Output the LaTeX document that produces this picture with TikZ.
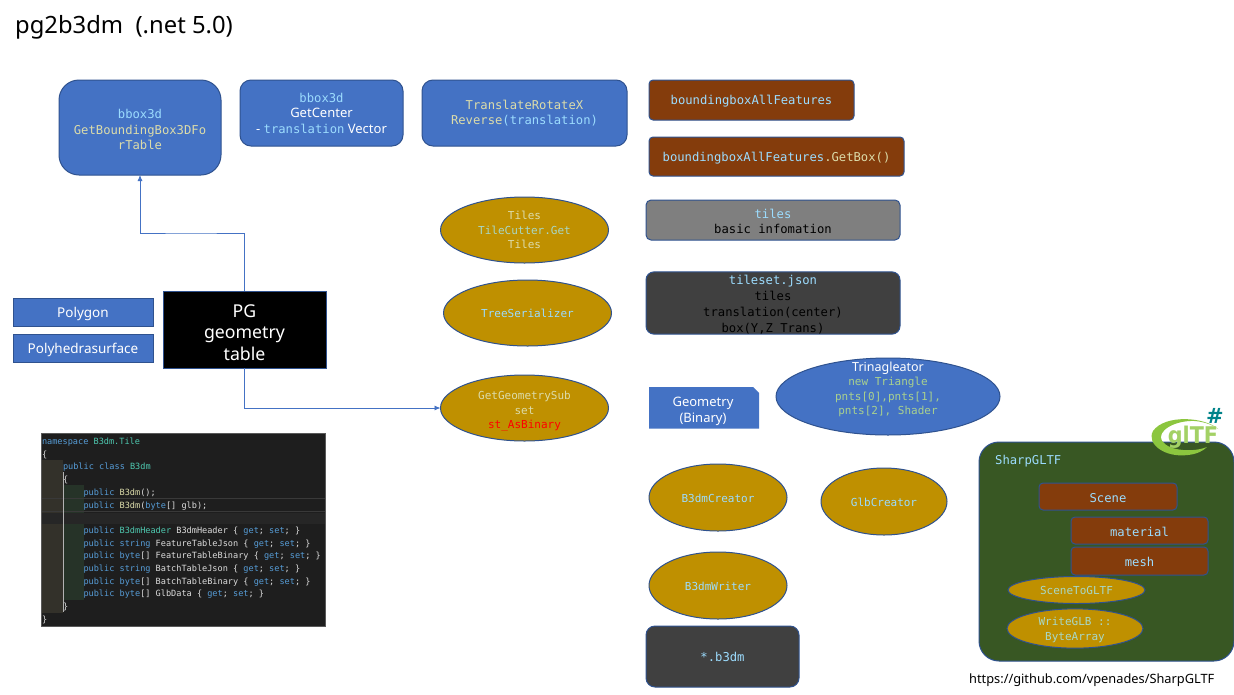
\documentclass[tikz,border=0pt]{standalone}
\usepackage{fontspec}
\setmainfont{Noto Sans}
\newfontfamily\monof{DejaVu Sans Mono}
\newfontfamily\logof{DejaVu Sans}
\usetikzlibrary{shapes.geometric,shapes.misc,arrows.meta,calc}
\definecolor{bluef}{HTML}{4472C4}
\definecolor{blued}{HTML}{2F528F}
\definecolor{brownf}{HTML}{843C0C}
\definecolor{goldf}{HTML}{BF9000}
\definecolor{greyf}{HTML}{7F7F7F}
\definecolor{darkf}{HTML}{404040}
\definecolor{greenf}{HTML}{385723}
\definecolor{cy}{HTML}{9CDCFE}
\definecolor{ye}{HTML}{DCDCAA}
\definecolor{pg}{HTML}{A9D18E}
\definecolor{te}{HTML}{A8D8C8}
\definecolor{kw}{HTML}{569CD6}
\definecolor{ty}{HTML}{4EC9B0}
\definecolor{wh}{HTML}{DCDCDC}
\definecolor{codebg}{HTML}{1E1E1E}
\definecolor{gutA}{HTML}{33312A}
\definecolor{gutB}{HTML}{263328}
\definecolor{logoG}{HTML}{8CC63F}
\definecolor{logoT}{HTML}{00838A}
\newcommand{\mt}{\monof\fontsize{12.2}{15.5}\selectfont}
\newcommand{\ot}{\monof\fontsize{11}{14.5}\selectfont}
\newcommand{\st}{\normalfont\fontsize{13.5}{16}\selectfont}
\newcommand{\K}[1]{\textcolor{kw}{#1}}
\newcommand{\T}[1]{\textcolor{ty}{#1}}
\newcommand{\up}[1]{\rule{0pt}{#1}}
\tikzset{
  x=1pt,y=-1pt,
  base/.style={draw=blued,line width=1pt,align=center,inner sep=0pt,outer sep=0pt,font=\mt,text=white},
  oval/.style={base,ellipse,fill=goldf,font=\ot},
  down/.style={execute at begin node={\rule{0pt}{#1}}},
  link/.style={draw=bluef,line width=0.8pt,-{Latex[length=6pt,width=5pt]}},
  code/.style={anchor=base west,inner sep=0pt,outer sep=0pt,font=\monof\fontsize{8.57}{10}\selectfont,text=wh},
}
\begin{document}
\begin{tikzpicture}
\useasboundingbox (0,0) rectangle (1234,694);
\fill[white] (0,0) rectangle (1234,694);
\node[anchor=base west,inner sep=0pt,font=\fontsize{23.8}{28}\selectfont,text=black] (title) at (15,33) {pg2b3dm\ \ (.net 5.0)};

\node[base,fill=bluef,rounded corners=20pt,minimum width=162pt,minimum height=95pt] (b1) at (140,127.5) {\up{14pt}\textcolor{cy}{bbox3d}\\\textcolor{ye}{GetBoundingBox3DFo}\\\textcolor{ye}{rTable}};
\node[base,fill=bluef,rounded corners=11pt,minimum width=163pt,minimum height=66pt] (b2) at (321.5,113) {\textcolor{cy}{bbox3d}\\{\normalfont\fontsize{13}{16}\selectfont GetCenter}\\{\normalfont\fontsize{13}{16}\selectfont - }\textcolor{cy}{translation}{\normalfont\fontsize{13}{16}\selectfont\ Vector}};
\node[base,fill=bluef,rounded corners=11pt,minimum width=205pt,minimum height=66pt] (b3) at (524.5,113) {\textcolor{ye}{TranslateRotateX}\\\textcolor{ye}{Reverse}\textcolor{cy}{(translation)}};

\node[base,down=12pt,fill=brownf,rounded corners=4pt,minimum width=205pt,minimum height=40pt] (c1) at (751.5,100) {\textcolor{cy}{boundingboxAllFeatures}};
\node[base,down=12pt,fill=brownf,rounded corners=4pt,minimum width=255pt,minimum height=39pt] (c2) at (776.5,156.5) {\textcolor{cy}{boundingboxAllFeatures}\textcolor{ye}{.GetBox()}};
\node[base,fill=greyf,rounded corners=5pt,minimum width=254pt,minimum height=40pt] (c3) at (773,220) {\up{12.5pt}\textcolor{cy}{tiles}\\\textcolor{black}{basic infomation}};
\node[base,fill=darkf,rounded corners=8pt,minimum width=254pt,minimum height=62pt,font=\monof\fontsize{12.2}{16}\selectfont] (c4) at (773,303) {\up{12.5pt}\textcolor{cy}{tileset.json}\\\textcolor{black}{tiles}\\\textcolor{black}{translation(center)}\\\textcolor{black}{box(Y,Z Trans)}};

\node[oval,minimum width=168pt,minimum height=66pt] (e1) at (524.5,230) {\textcolor{ye}{Tiles}\\\textcolor{te}{TileCutter.Get}\\\textcolor{ye}{Tiles}};
\node[oval,down=10pt,minimum width=168pt,minimum height=66pt] (e2) at (527.5,313) {\textcolor{cy}{TreeSerializer}};
\node[oval,minimum width=168pt,minimum height=66pt] (geo) at (524.5,408) {\up{15pt}\textcolor{ye}{GetGeometrySub}\\\textcolor{ye}{set}\\\textcolor{red}{st\_AsBinary}};

\fill[bluef] (649,387) -- (753,387) -- (759,393) -- (759,428.5) -- (649,428.5) -- cycle;
\node[inner sep=0pt,align=center,text=white,font=\fontsize{13}{16}\selectfont] (g1) at (703,411.5) {Geometry\\(Binary)};

\node[base,ellipse,fill=bluef,minimum width=224pt,minimum height=77pt] (tri) at (888,396.5) {};
\node[inner sep=0pt,align=center,text=white,font=\ot] (trit) at (888,389.5) {{\normalfont\fontsize{12.5}{14.5}\selectfont Trinagleator}\\\textcolor{pg}{new Triangle}\\\textcolor{pg}{pnts[0],pnts[1],}\\\textcolor{pg}{pnts[2], Shader}};

\node[oval,down=10pt,minimum width=138pt,minimum height=67pt] (e3) at (718,497.5) {\textcolor{cy}{B3dmCreator}};
\node[oval,down=10pt,minimum width=126pt,minimum height=67pt] (e4) at (884,501.5) {\textcolor{cy}{GlbCreator}};
\node[oval,down=10pt,minimum width=138pt,minimum height=67pt] (e5) at (718,585.5) {\textcolor{cy}{B3dmWriter}};
\node[base,fill=darkf,rounded corners=9pt,minimum width=153pt,minimum height=61pt] (c5) at (722.5,656.5) {\textcolor{cy}{*.b3dm}};

\node[base,fill=greenf,rounded corners=20pt,minimum width=255pt,minimum height=219pt] (sg) at (1106.5,551.5) {};
\node[anchor=base west,inner sep=0pt,font=\mt,text=cy] (sgt) at (995,464) {SharpGLTF};
\node[base,down=12pt,fill=brownf,rounded corners=4pt,minimum width=138pt,minimum height=27pt] (s1) at (1108,496.5) {\textcolor{cy}{Scene}};
\node[base,down=12pt,fill=brownf,rounded corners=4pt,minimum width=137pt,minimum height=27pt] (s2) at (1139.5,530.5) {\textcolor{cy}{material}};
\node[base,down=12pt,fill=brownf,rounded corners=4pt,minimum width=137pt,minimum height=28pt] (s3) at (1139.5,561) {\textcolor{cy}{mesh}};
\node[oval,minimum width=137pt,minimum height=27pt] (s4) at (1076.5,590) {\textcolor{te}{SceneToGLTF}};
\node[oval,minimum width=136pt,minimum height=37pt] (s5) at (1075,628.5) {\up{11pt}\textcolor{te}{WriteGLB ::}\\\textcolor{te}{ByteArray}};

% glTF logo
\fill[logoG] (1218,429) .. controls (1205,417) and (1165,414) .. (1153,431)
  .. controls (1146,444) and (1165,458) .. (1188,455)
  .. controls (1197,454) and (1203,451) .. (1207,447)
  .. controls (1195,452) and (1170,452) .. (1162,441)
  .. controls (1156,431) and (1175,420) .. (1195,421)
  .. controls (1205,422) and (1213,425) .. (1218,429) -- cycle;
\node[inner sep=0pt,anchor=center,font=\logof\bfseries\fontsize{23}{23}\selectfont,text=logoG!80!white] (gl) at (1193,437) {\scalebox{.9}[1]{glTF}};
\node[inner sep=0pt,font=\logof\bfseries\fontsize{21}{21}\selectfont,text=logoT] (hash) at (1215,415.5) {\#};

\node[anchor=base west,inner sep=0pt,font=\fontsize{12.8}{15}\selectfont,text=black] (url) at (969,683) {https://github.com/vpenades/SharpGLTF};

\node[base,down=14pt,rectangle,fill=bluef,minimum width=140pt,minimum height=28pt,font=\st] (p1) at (83,312) {Polygon};
\node[base,down=14pt,rectangle,fill=bluef,minimum width=140pt,minimum height=28pt,font=\st] (p2) at (83,348) {Polyhedrasurface};
\node[base,rectangle,fill=black,minimum width=163pt,minimum height=77pt,font=\normalfont\fontsize{17.7}{21.5}\selectfont] (pgt) at (244.5,329.5) {\up{19pt}PG\\geometry\\table};

\coordinate (m1) at (190,233);
\draw[link] (pgt.north) |- (m1) -| (b1.south);
\draw[link] (pgt.south) |- (geo.west);

% code screenshot
\node[rectangle,fill=codebg,draw=gray!70!black,line width=0.8pt,minimum width=284pt,minimum height=193pt,inner sep=0pt] (scr) at (183,530) {};
\fill[gutA] (42,460) rectangle (63,513);
\fill[gutA] (42,524) rectangle (63,613);
\fill[gutB] (63,485) rectangle (84,513);
\fill[gutB] (63,524) rectangle (84,600);
\fill[black!85] (42,513) rectangle (325,524);
\draw[white!12!codebg,line width=0.5pt] (42,498.5) -- (325,498.5) (42,511) -- (325,511);
\draw[gray!60,line width=0.5pt] (63,472) -- (63,612);
\node[code] (l1) at (42,444) {\K{namespace} \T{B3dm.Tile}};
\node[code] (l2) at (42,457) {\{};
\node[code] (l3) at (63,469) {\K{public class} \T{B3dm}};
\node[code] (l4) at (63,482) {\{};
\node[code] (l5) at (83.5,495) {\K{public} \textcolor{ye}{B3dm}();};
\node[code] (l6) at (83.5,508) {\K{public} \textcolor{ye}{B3dm}(\K{byte}[] glb);};
\node[code] (l7) at (83.5,533) {\K{public} \T{B3dmHeader} B3dmHeader \{ \K{get}; \K{set}; \}};
\node[code] (l8) at (83.5,546) {\K{public string} FeatureTableJson \{ \K{get}; \K{set}; \}};
\node[code] (l9) at (83.5,558) {\K{public byte}[] FeatureTableBinary \{ \K{get}; \K{set}; \}};
\node[code] (l10) at (83.5,571) {\K{public string} BatchTableJson \{ \K{get}; \K{set}; \}};
\node[code] (l11) at (83.5,584) {\K{public byte}[] BatchTableBinary \{ \K{get}; \K{set}; \}};
\node[code] (l12) at (83.5,596) {\K{public byte}[] GlbData \{ \K{get}; \K{set}; \}};
\node[code] (l13) at (63,609) {\}};
\node[code] (l14) at (42,622) {\}};
\end{tikzpicture}
\end{document}
